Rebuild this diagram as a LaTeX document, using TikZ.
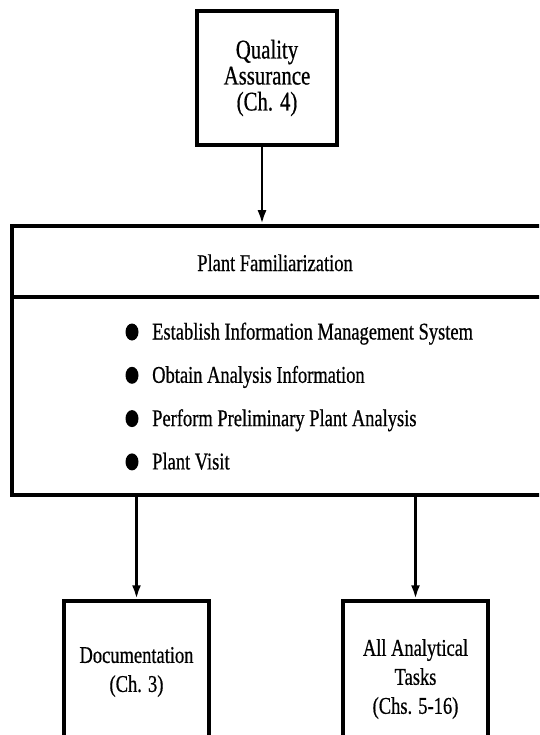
\documentclass[tikz,border=0pt]{standalone}
\usepackage{fontspec}
\setmainfont[FakeStretch=0.77, FakeBold=0.6]{Liberation Serif}
\usetikzlibrary{arrows.meta,shapes.geometric}

\tikzset{
  frame/.style={draw, line width=3.5pt, line join=miter, inner sep=0pt},
  txt/.style={font=\fontsize{24}{29}\selectfont, inner sep=0pt},
  bigtxt/.style={font=\fontsize{27}{26}\selectfont, inner sep=0pt},
  flow/.style={line width=2.8pt, -{Latex[length=14pt,width=9pt]}},
  dot/.style={ellipse, fill=black, inner sep=0pt, minimum width=13pt, minimum height=17pt},
}

\begin{document}
\begin{tikzpicture}[x=1pt, y=-1pt]
  \useasboundingbox (0,0) rectangle (539,735);
  \clip (0,0) rectangle (539,735);

  % top box
  \node[frame, bigtxt, align=center, minimum width=140pt, minimum height=134pt]
    (qa) at (267,78) {Quality\\Assurance\\(Ch. 4)};

  % central box with title band and bullet list
  \node[frame, minimum width=538pt, minimum height=269pt] (pf) at (281,360.5) {};
  \draw[line width=3.5pt] (pf.west |- 0,297) -- (pf.east |- 0,297);
  \node[txt, anchor=base] (title) at (275,271) {Plant Familiarization};

  \node[txt, anchor=base west] (i1) at (152,339.5) {Establish Information Management System};
  \node[txt, anchor=base west] (i2) at (152,382.8) {Obtain Analysis Information};
  \node[txt, anchor=base west] (i3) at (152,426.1) {Perform Preliminary Plant Analysis};
  \node[txt, anchor=base west] (i4) at (152,469.4) {Plant Visit};
  \node[dot] (d1) at (132,332) {};
  \node[dot] (d2) at (132,375.3) {};
  \node[dot] (d3) at (132,418.6) {};
  \node[dot] (d4) at (132,461.9) {};

  % bottom boxes
  \node[frame, txt, align=center, minimum width=145pt, minimum height=142pt]
    (doc) at (136.5,672) {Documentation\\(Ch. 3)};
  \node[frame, txt, align=center, minimum width=145pt, minimum height=156pt]
    (tasks) at (415.5,679) {All Analytical\\Tasks\\(Chs. 5-16)};

  % connectors
  \draw[flow] ([xshift=-5pt]qa.south) -- ([xshift=-5pt]qa.south |- pf.north);
  \draw[flow] (doc.north |- pf.south) -- (doc.north);
  \draw[flow] (tasks.north |- pf.south) -- (tasks.north);
\end{tikzpicture}
\end{document}
